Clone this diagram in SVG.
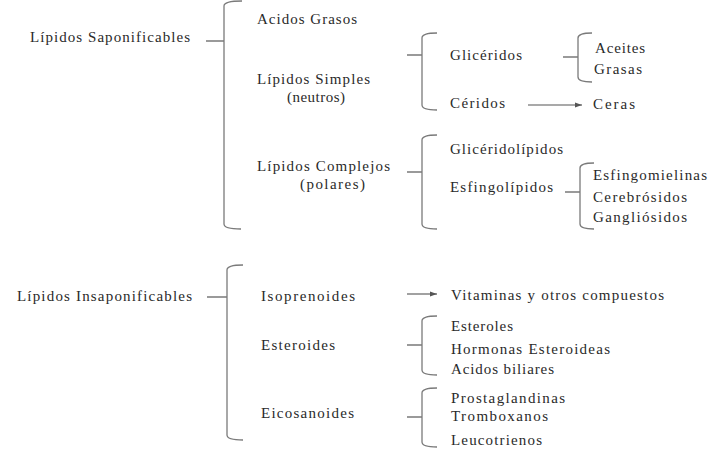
<svg xmlns="http://www.w3.org/2000/svg" width="715" height="451" viewBox="0 0 715 451">
<style>
.t{font-family:'Liberation Serif','Times New Roman',serif;font-size:15px;fill:#2a2a2a}
.br{fill:none;stroke:#7a7a7a;stroke-width:1.3}
.ar{fill:none;stroke:#555;stroke-width:1.1}
</style>
<defs>
<marker id="ah" markerWidth="8" markerHeight="8" refX="7" refY="4" orient="auto" markerUnits="userSpaceOnUse">
<path d="M0,1.5 L7,4 L0,6.5 Z" fill="#555"/>
</marker>
</defs>
<rect width="715" height="451" fill="#fff"/>
<g id="connectors">
<path class="br" d="M242,1 Q224,1 224,6 V224 Q224,229 241,229 M206,41 H224"/>
<path class="br" d="M437,33 Q422,33 422,38 V105 Q422,110 437,110 M407,55 H422"/>
<path class="br" d="M592,33 Q578,33 578,38 V77 Q578,82 592,82 M563,57 H578"/>
<path class="br" d="M437,135 Q422,135 422,140 V224 Q422,229 437,229 M407,172 H422"/>
<path class="br" d="M594,163 Q580,163 580,168 V224 Q580,229 594,229 M565,192 H580"/>
<path class="br" d="M243,265 Q227,265 227,270 V435 Q227,440 243,440 M207,297 H227"/>
<path class="br" d="M437,316 Q422,316 422,321 V370 Q422,375 437,375 M407,345 H422"/>
<path class="br" d="M437,388 Q422,388 422,393 V442 Q422,447 437,447 M407,417 H422"/>
<path class="ar" d="M528,105 H582" marker-end="url(#ah)"/>
<path class="ar" d="M407,294 H437" marker-end="url(#ah)"/>
</g>
<g id="saponificables"><text class="t" x="30" y="42" textLength="160" lengthAdjust="spacing">Lípidos Saponificables</text></g>
<g id="acidos-grasos"><text class="t" x="257" y="24" textLength="100" lengthAdjust="spacing">Acidos Grasos</text></g>
<g id="simples"><text class="t" x="257" y="84" textLength="113" lengthAdjust="spacing">Lípidos Simples</text><text class="t" x="287" y="102" textLength="58" lengthAdjust="spacing">(neutros)</text></g>
<g id="complejos"><text class="t" x="257" y="171" textLength="133" lengthAdjust="spacing">Lípidos Complejos</text><text class="t" x="300" y="189" textLength="65" lengthAdjust="spacing">(polares)</text></g>
<g id="gliceridos"><text class="t" x="450" y="60" textLength="72" lengthAdjust="spacing">Glicéridos</text></g>
<g id="ceridos"><text class="t" x="450" y="108" textLength="55" lengthAdjust="spacing">Céridos</text></g>
<g id="ceras"><text class="t" x="593" y="109" textLength="42" lengthAdjust="spacing">Ceras</text></g>
<g id="aceites"><text class="t" x="595" y="53" textLength="50" lengthAdjust="spacing">Aceites</text></g>
<g id="grasas"><text class="t" x="594" y="74" textLength="48" lengthAdjust="spacing">Grasas</text></g>
<g id="glicerolipidos"><text class="t" x="450" y="154" textLength="113" lengthAdjust="spacing">Glicéridolípidos</text></g>
<g id="esfingolipidos"><text class="t" x="450" y="192" textLength="103" lengthAdjust="spacing">Esfingolípidos</text></g>
<g id="esfingomielinas"><text class="t" x="593" y="180" textLength="114" lengthAdjust="spacing">Esfingomielinas</text></g>
<g id="cerebrosidos"><text class="t" x="593" y="202" textLength="94" lengthAdjust="spacing">Cerebrósidos</text></g>
<g id="gangliosidos"><text class="t" x="593" y="222" textLength="94" lengthAdjust="spacing">Gangliósidos</text></g>
<g id="insaponificables"><text class="t" x="17" y="301" textLength="175" lengthAdjust="spacing">Lípidos Insaponificables</text></g>
<g id="isoprenoides"><text class="t" x="261" y="301" textLength="94" lengthAdjust="spacing">Isoprenoides</text></g>
<g id="esteroides"><text class="t" x="261" y="350" textLength="74" lengthAdjust="spacing">Esteroides</text></g>
<g id="eicosanoides"><text class="t" x="261" y="418" textLength="93" lengthAdjust="spacing">Eicosanoides</text></g>
<g id="vitaminas"><text class="t" x="451" y="300" textLength="213" lengthAdjust="spacing">Vitaminas y otros compuestos</text></g>
<g id="esteroles"><text class="t" x="451" y="331" textLength="62" lengthAdjust="spacing">Esteroles</text></g>
<g id="hormonas"><text class="t" x="451" y="354" textLength="159" lengthAdjust="spacing">Hormonas Esteroideas</text></g>
<g id="acidos-biliares"><text class="t" x="451" y="374" textLength="103" lengthAdjust="spacing">Acidos biliares</text></g>
<g id="prostaglandinas"><text class="t" x="451" y="403" textLength="114" lengthAdjust="spacing">Prostaglandinas</text></g>
<g id="tromboxanos"><text class="t" x="451" y="421" textLength="97" lengthAdjust="spacing">Tromboxanos</text></g>
<g id="leucotrienos"><text class="t" x="451" y="445" textLength="91" lengthAdjust="spacing">Leucotrienos</text></g>
</svg>
